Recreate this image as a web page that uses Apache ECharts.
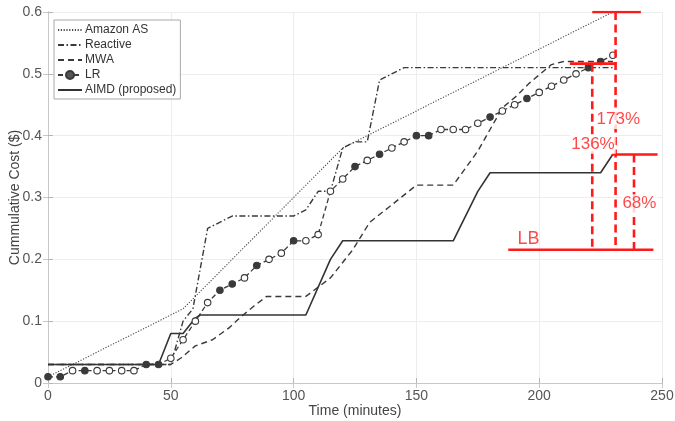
<!DOCTYPE html>
<html>
<head>
<meta charset="utf-8">
<script src="https://cdn.jsdelivr.net/npm/echarts@6/dist/echarts.min.js"></script>
<style>
  html, body { margin: 0; padding: 0; background: #fff; }
  #chart { width: 675px; height: 421px; }
</style>
</head>
<body>
<div id="chart"></div>
<script>
// series values, [time (min), cost ($)]
var amazonAS = [[0, 0.01], [55, 0.12], [120, 0.38], [230, 0.6]];
var reactive = [[0, 0.03], [50, 0.03], [55, 0.10], [59, 0.12], [65, 0.25], [75, 0.27], [100, 0.27],
  [105, 0.28], [110, 0.31], [115, 0.31], [120, 0.38], [125, 0.39], [130, 0.39], [135, 0.49],
  [145, 0.51], [230, 0.51]];
var mwa = [[0, 0.03], [50, 0.03], [54, 0.04], [60, 0.06], [67, 0.07], [74, 0.09], [78, 0.105],
  [84, 0.125], [89, 0.14], [105, 0.14], [110, 0.155], [115, 0.17], [124, 0.215], [131, 0.26],
  [139, 0.285], [150, 0.32], [165, 0.32], [175, 0.375], [180, 0.41], [185, 0.445], [191, 0.465],
  [196, 0.485], [205, 0.515], [210, 0.52], [230, 0.52]];
var lrTimes = [0, 5, 10, 15, 20, 25, 30, 35, 40, 45, 50, 55, 60, 65, 70, 75, 80, 85, 90, 95, 100,
  105, 110, 115, 120, 125, 130, 135, 140, 145, 150, 155, 160, 165, 170, 175, 180, 185, 190, 195,
  200, 205, 210, 215, 220, 225, 230];
var lrCost = [0.01, 0.01, 0.02, 0.02, 0.02, 0.02, 0.02, 0.02, 0.03, 0.03, 0.04, 0.07, 0.10, 0.13,
  0.15, 0.16, 0.17, 0.19, 0.20, 0.21, 0.23, 0.23, 0.24, 0.31, 0.33, 0.35, 0.36, 0.37, 0.38, 0.39,
  0.40, 0.40, 0.41, 0.41, 0.41, 0.42, 0.43, 0.44, 0.45, 0.46, 0.47, 0.48, 0.49, 0.50, 0.51, 0.52, 0.53];
// LR points drawn with a filled marker
var lrFilledTimes = [0, 5, 15, 40, 45, 70, 75, 85, 100, 125, 135, 150, 155, 180, 195, 220, 225];
var aimd = [[0, 0.03], [45, 0.03], [50, 0.08], [55, 0.08], [60, 0.105], [62, 0.11], [105, 0.11],
  [115, 0.2], [120, 0.23], [165, 0.23], [175, 0.31], [180, 0.34], [225, 0.34], [230, 0.37]];

// red annotation
var redSolid = [[[221.6, 0.6], [241.4, 0.6]], [[212.5, 0.5165], [231.5, 0.5165]],
  [[229.5, 0.3695], [248.2, 0.3695]], [[187.4, 0.2156], [246.5, 0.2156]]];
var redDashed = [[[221.6, 0.5165], [221.6, 0.2156]], [[231.1, 0.6], [231.1, 0.2156]],
  [[238.6, 0.3695], [238.6, 0.2156]]];
var redLabels = [['173%', 232.2, 0.426], ['136%', 221.9, 0.386], ['68%', 240.8, 0.29]];
var lbLabel = ['LB', 195.6, 0.233];

var legendNames = ['Amazon AS', 'Reactive', 'MWA', 'LR', 'AIMD (proposed)'];
var xTicks = { min: 0, max: 250, interval: 50 };
var yTicks = { min: 0, max: 0.6, interval: 0.1 };

var font = 'Liberation Sans, Arial, sans-serif';
var ink = '#3a3a3a';
var red = '#ff1a1a';

var chart = echarts.init(document.getElementById('chart'), null, { renderer: 'canvas' });

var lrData = lrTimes.map(function (t, i) {
  var filled = lrFilledTimes.indexOf(t) >= 0;
  return {
    value: [t, lrCost[i]],
    itemStyle: { color: filled ? '#3a3a3a' : '#fff', borderColor: ink, borderWidth: 1.1 }
  };
});

var series = [
  { name: 'Amazon AS', type: 'line', data: amazonAS, symbol: 'none', itemStyle: { color: ink },
    lineStyle: { color: '#4a4a4a', width: 1.1, type: [1.2, 1.6] } },
  { name: 'Reactive', type: 'line', data: reactive, symbol: 'none', itemStyle: { color: ink },
    lineStyle: { color: ink, width: 1.4, type: [6, 2.5, 1.5, 2.5] } },
  { name: 'MWA', type: 'line', data: mwa, symbol: 'none', itemStyle: { color: ink },
    lineStyle: { color: ink, width: 1.4, type: [6, 4] } },
  { name: 'LR', type: 'line', data: lrData, symbol: 'circle', symbolSize: 6.5, showAllSymbol: true,
    itemStyle: { color: '#fff', borderColor: ink, borderWidth: 1.1 },
    lineStyle: { color: ink, width: 1.3, type: [5, 3] } },
  { name: 'AIMD (proposed)', type: 'line', data: aimd, symbol: 'none', itemStyle: { color: ink },
    lineStyle: { color: '#333', width: 1.6 } }
];

redSolid.forEach(function (seg) {
  series.push({ type: 'line', data: seg, symbol: 'none', silent: true, z: 5,
    lineStyle: { color: red, width: 2.6 } });
});
redDashed.forEach(function (seg) {
  series.push({ type: 'line', data: seg, symbol: 'none', silent: true, z: 5,
    lineStyle: { color: red, width: 2.6, type: [8, 4.5] } });
});
series.push({
  type: 'scatter', symbolSize: 0, silent: true, z: 8,
  data: redLabels.map(function (l) { return { name: l[0], value: [l[1], l[2]] }; }),
  label: { show: true, position: 'inside', formatter: '{b}', color: red, fontFamily: font,
    fontSize: 17, backgroundColor: '#fff', padding: [1, 1] }
});
series.push({
  type: 'scatter', symbolSize: 0, silent: true, z: 8,
  data: [{ name: lbLabel[0], value: [lbLabel[1], lbLabel[2]] }],
  label: { show: true, position: 'inside', formatter: '{b}', color: red, fontFamily: font, fontSize: 18 }
});

var option = {
  backgroundColor: '#fff',
  animation: false,
  textStyle: { fontFamily: font },
  grid: { left: 48, right: 13, top: 12, bottom: 38, outerBoundsMode: 'none', containLabel: false },
  legend: {
    data: legendNames.map(function (n) {
      return n === 'LR'
        ? { name: n, itemStyle: { color: '#555', borderColor: ink } }
        : { name: n, itemStyle: { opacity: 0 } };
    }),
    orient: 'vertical', left: 54, top: 20,
    itemWidth: 24, itemHeight: 10, itemGap: 3,
    padding: [4, 4, 3, 3],
    backgroundColor: '#fff', borderColor: '#a8a8a8', borderWidth: 1,
    textStyle: { color: '#333', fontSize: 12, lineHeight: 11, fontFamily: font, padding: [0, 0, 0, -2] }
  },
  xAxis: [{
    type: 'value', min: xTicks.min, max: xTicks.max, interval: xTicks.interval,
    name: 'Time (minutes)', nameLocation: 'middle', nameGap: 21, nameMoveOverlap: false,
    nameTextStyle: { color: '#444', fontSize: 14, fontFamily: font },
    axisLine: { show: true, lineStyle: { color: '#b5b5b5' } },
    axisTick: { show: true, inside: true, length: 5, lineStyle: { color: '#b5b5b5' } },
    axisLabel: { color: '#555', fontSize: 14, margin: 6, fontFamily: font },
    splitLine: { show: true, lineStyle: { color: '#ededed' } }
  }, {
    type: 'value', position: 'top', min: xTicks.min, max: xTicks.max, interval: xTicks.interval,
    axisLine: { show: true, lineStyle: { color: '#c8c8c8' } },
    axisTick: { show: true, inside: true, length: 5, lineStyle: { color: '#c8c8c8' } },
    axisLabel: { show: false }, splitLine: { show: false }
  }],
  yAxis: [{
    type: 'value', min: yTicks.min, max: yTicks.max, interval: yTicks.interval,
    name: 'Cummulative Cost ($)', nameLocation: 'middle', nameGap: 26, nameMoveOverlap: false,
    nameTextStyle: { color: '#444', fontSize: 14, fontFamily: font },
    axisLine: { show: true, lineStyle: { color: '#b5b5b5' } },
    axisTick: { show: true, inside: true, length: 5, lineStyle: { color: '#b5b5b5' } },
    axisLabel: { color: '#555', fontSize: 14, margin: 6, fontFamily: font,
      formatter: function (v) { return v === 0 ? '0' : v.toFixed(1); } },
    splitLine: { show: true, lineStyle: { color: '#ededed' } }
  }, {
    type: 'value', position: 'right', min: yTicks.min, max: yTicks.max, interval: yTicks.interval,
    axisLine: { show: true, lineStyle: { color: '#c8c8c8' } },
    axisTick: { show: true, inside: true, length: 5, lineStyle: { color: '#c8c8c8' } },
    axisLabel: { show: false }, splitLine: { show: false }
  }],
  series: series
};

chart.setOption(option);
</script>
</body>
</html>
